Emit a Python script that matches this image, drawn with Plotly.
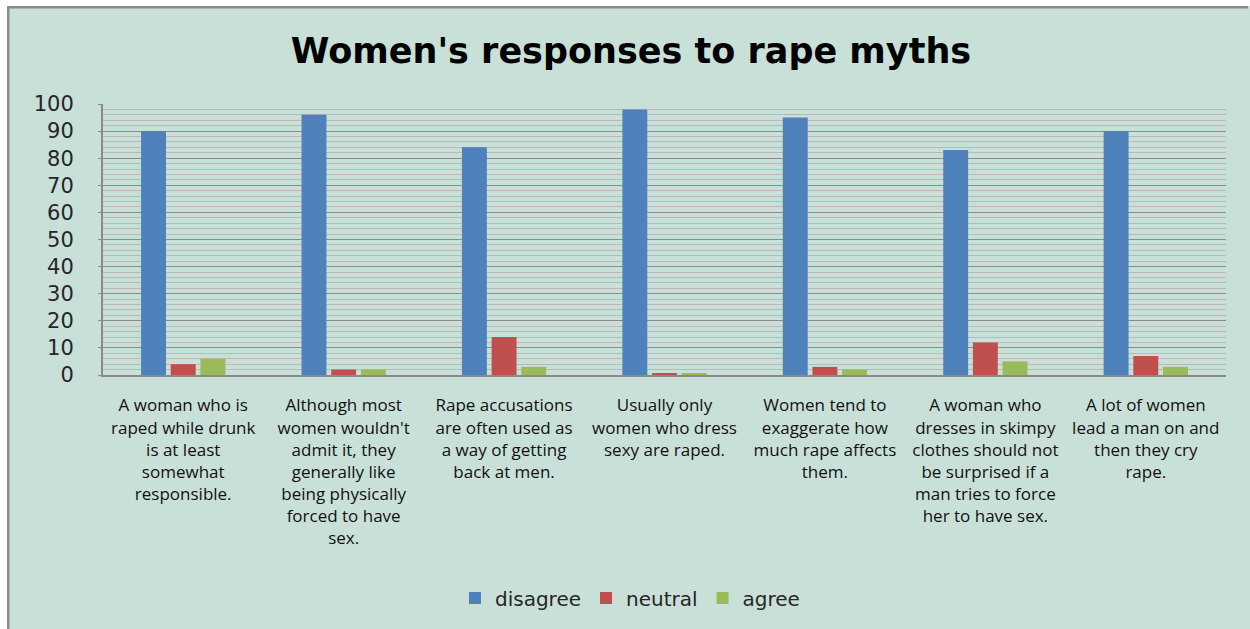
import plotly.graph_objects as go

categories = [
    "A woman who is<br>raped while drunk<br>is at least<br>somewhat<br>responsible.",
    "Although most<br>women wouldn't<br>admit it, they<br>generally like<br>being physically<br>forced to have<br>sex.",
    "Rape accusations<br>are often used as<br>a way of getting<br>back at men.",
    "Usually only<br>women who dress<br>sexy are raped.",
    "Women tend to<br>exaggerate how<br>much rape affects<br>them.",
    "A woman who<br>dresses in skimpy<br>clothes should not<br>be surprised if a<br>man tries to force<br>her to have sex.",
    "A lot of women<br>lead a man on and<br>then they cry<br>rape.",
]
disagree = [90, 96, 84, 98, 95, 83, 90]
neutral = [4, 2, 14, 0.7, 3, 12, 7]
agree = [6, 2, 3, 0.6, 2, 5, 3]
y_ticks = [0, 10, 20, 30, 40, 50, 60, 70, 80, 90, 100]

BG = "#C9E0D8"
W, H = 1250, 629
L, R, T, B = 103, 1226, 104, 375


def px(x):
    return (x - L) / (R - L)


def py(y):
    return (B - y) / (B - T)


fig = go.Figure()
for name, vals, col in [("disagree", disagree, "#4F81BD"),
                        ("neutral", neutral, "#C0504D"),
                        ("agree", agree, "#9BBB59")]:
    fig.add_trace(go.Bar(x=categories, y=vals, name=name,
                         marker=dict(color=col, line=dict(width=0))))

shapes = [
    dict(type="rect", xref="paper", yref="paper", x0=px(-5), x1=px(7), y0=py(-5), y1=py(640),
         fillcolor="white", line=dict(width=0), layer="above"),
    dict(type="rect", xref="paper", yref="paper", x0=px(-5), x1=px(1260), y0=py(-5), y1=py(6),
         fillcolor="white", line=dict(width=0), layer="above"),
    dict(type="rect", xref="paper", yref="paper", x0=px(7), x1=px(9.5), y0=py(6), y1=py(640),
         fillcolor="#8A8A8A", line=dict(width=0), layer="above"),
    dict(type="rect", xref="paper", yref="paper", x0=px(7), x1=px(1248), y0=py(6), y1=py(8.5),
         fillcolor="#8A8A8A", line=dict(width=0), layer="above"),
]

fig.update_layout(
    width=W, height=H,
    margin=dict(l=L, r=W - R, t=T, b=H - B, pad=0),
    paper_bgcolor=BG, plot_bgcolor=BG,
    barmode="group", bargap=0.445, bargroupgap=0.16,
    title=dict(text="<b>Women's responses to rape myths</b>",
               font=dict(family="DejaVu Sans", size=35, color="black"),
               x=631 / W, xanchor="center", xref="container",
               y=1 - 51 / H, yanchor="middle", yref="container"),
    legend=dict(orientation="h", x=px(630), xanchor="center", y=py(598), yanchor="middle",
                font=dict(family="DejaVu Sans", size=20, color="#262626"),
                bgcolor="rgba(0,0,0,0)", itemwidth=30),
    shapes=shapes,
    showlegend=True,
)
fig.update_xaxes(
    type="category", showline=True, linecolor="#8A8A8A", linewidth=2,
    showgrid=False, ticks="", ticklabelstandoff=14,
    tickfont=dict(family="Open Sans", size=17, color="#111111"),
    tickangle=0,
)
fig.update_yaxes(
    range=[0, 100], tickvals=y_ticks, showline=True, linecolor="#8A8A8A", linewidth=2,
    showgrid=True, gridcolor="#8C8C8C", gridwidth=1,
    ticks="outside", ticklen=3, tickcolor="#8A8A8A", ticklabelstandoff=20,
    tickfont=dict(family="DejaVu Sans", size=21, color="#262626"),
    minor=dict(dtick=2, showgrid=True, gridcolor="#B6BAB8", gridwidth=1),
    zeroline=False,
)
fig.write_html("out.html")
